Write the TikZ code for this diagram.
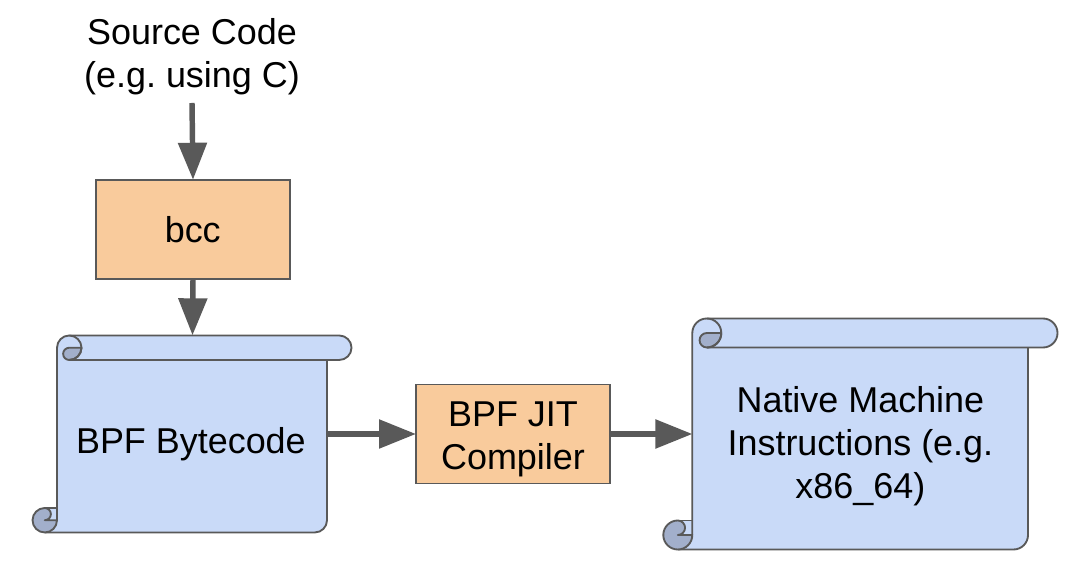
\documentclass[tikz,border=0pt]{standalone}
\usepackage{fontspec}
\setmainfont{Liberation Sans}
\usetikzlibrary{arrows.meta}
\definecolor{edge}{HTML}{595959}
\definecolor{scrollblue}{HTML}{C9DAF8}
\definecolor{rollblue}{HTML}{A2AFCB}
\definecolor{boxorange}{HTML}{F9CB9C}
\tikzset{
  x=0.75pt,y=0.75pt,
  lbl/.style={font=\fontsize{26.95pt}{32.2pt}\selectfont\frenchspacing,align=center,text=black,inner sep=0pt,outer sep=0pt},
  procbox/.style={lbl,draw=edge,line width=1.4pt,fill=boxorange,minimum width=145.5pt,minimum height=74.25pt},
  scrollanchor/.style={lbl,rectangle},
  scrollline/.style={draw=edge,line width=1.4pt,line join=round},
  flow/.style={draw=edge,line width=4.1pt,-{Triangle[length=27.75pt,width=21pt,fill=edge]}},
}
% x0 body left, x1 body right, x2 band right, y0 top, y1 band bottom, y2 bottom, r roll radius
\newcommand{\drawscroll}[7]{%
  \def\xa{#1}\def\xb{#2}\def\xc{#3}\def\ya{#4}\def\yb{#5}\def\yc{#6}\def\rr{#7}%
  \pgfmathsetmacro\rh{\rr/2}%
  % whole sheet
  \fill[scrollblue] (\xa,\yc+\rr) -- (\xa,\ya-\rr) arc[start angle=180,end angle=90,radius=\rr]
    -- (\xc-\rr,\ya) arc[start angle=90,end angle=-90,radius=\rr] -- (\xb,\yb)
    -- (\xb,\yc+\rr) arc[start angle=0,end angle=-90,radius=\rr] -- (\xa-\rr,\yc)
    -- (\xa-\rr,\yc+2*\rr) -- (\xa,\yc+2*\rr) -- cycle;
  % outline
  \draw[scrollline] (\xa,\yc+\rr) -- (\xa,\ya-\rr) arc[start angle=180,end angle=90,radius=\rr]
    -- (\xc-\rr,\ya) arc[start angle=90,end angle=-90,radius=\rr] -- (\xa+\rr,\yb);
  \draw[scrollline] (\xb,\yb) -- (\xb,\yc+\rr) arc[start angle=0,end angle=-90,radius=\rr] -- (\xa-\rr,\yc);
  % top curl
  \draw[scrollline,fill=rollblue] (\xa+\rr,\yb) arc[start angle=270,end angle=90,radius=\rh]
    -- (\xa+2*\rr,\yb+\rr) arc[start angle=0,end angle=-90,radius=\rr] -- cycle;
  \draw[scrollline] (\xa+\rr,\ya) arc[start angle=90,end angle=-90,radius=\rr];
  % bottom curl
  \draw[scrollline,fill=rollblue] (\xa-\rr,\yc+2*\rr) arc[start angle=90,end angle=-90,radius=\rh]
    -- (\xa,\yc+\rr) arc[start angle=0,end angle=-90,radius=\rr]
    arc[start angle=270,end angle=90,radius=\rr] -- cycle;
  \draw[scrollline] (\xa-\rr,\yc+2*\rr) -- (\xa,\yc+2*\rr);
}
\begin{document}
\begin{tikzpicture}
\useasboundingbox (0,0) rectangle (1066,570);
\drawscroll{57}{327}{351.5}{234.5}{210}{37.5}{12.25}
\drawscroll{692.3}{1028}{1057.5}{251.5}{222.5}{20.5}{14.5}
\node[lbl,inner ysep=6pt,anchor=south] (src) at (192,467) {Source Code\\(e.g. using C)};
\node[procbox,text height=19.2pt,text depth=0pt] (bcc) at (193,340.75) {\hspace*{-0.4pt}bcc};
\node[scrollanchor,minimum width=202.5pt,minimum height=148pt,text height=29.25pt,text depth=0pt] (bytecode) at (192.5,136) {\hspace*{-2.4pt}BPF Bytecode};
\node[procbox] (jit) at (513,136) {\rule{0pt}{26.6pt}BPF JIT\\Compiler};
\node[scrollanchor,minimum width=252pt,minimum height=173.25pt] (native) at (860.4,136) {\rule{0pt}{38pt}Native Machine\\Instructions (e.g.\\x86\_64)};
\draw[flow] (src.south) -- (bcc.north);
\draw[flow] (bcc.south) -- (bytecode.north);
\draw[flow] (bytecode.east) -- (jit.west);
\draw[flow] (jit.east) -- (native.west);
\end{tikzpicture}
\end{document}
